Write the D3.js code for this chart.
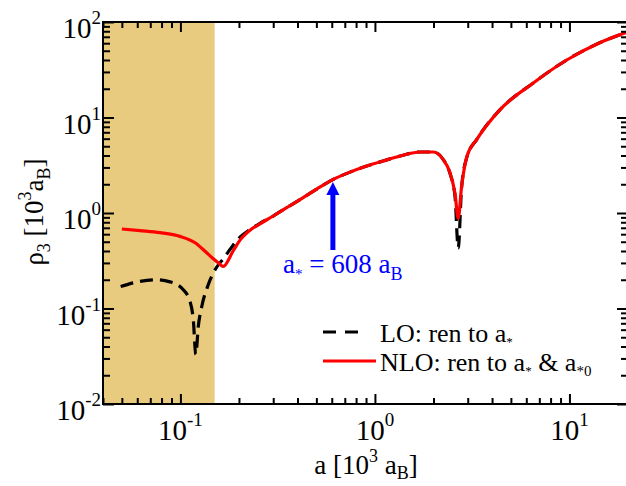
<!DOCTYPE html>
<html><head><meta charset="utf-8">
<script src="https://cdn.jsdelivr.net/npm/d3@7"></script>
<style>
body{margin:0;background:#fff}
svg{display:block}
</style>
</head><body>
<svg id="c" width="626" height="486" font-family="'Liberation Serif','Times New Roman',Times,'DejaVu Serif',serif"></svg>
<script>
// a in units of 10^3 a_B, rho3 in units of 10^3 a_B
const loX = [0.0493,0.062,0.0755,0.0885,0.1035,0.112,0.1165,0.12,0.1236,0.1288,0.139,0.1507,0.166,0.1866,0.2025,0.228,0.2565,0.3,0.337,0.412,0.502,0.611,0.745,0.908,1.10,1.35,1.71,2.0,2.25,2.43,2.58,2.68,2.79,2.97,3.34,4.40,6.52,9.68,14.4,20];
const loY = [0.17,0.192,0.20,0.19,0.157,0.119,0.076,0.033,0.065,0.105,0.177,0.255,0.33,0.46,0.56,0.67,0.78,0.93,1.08,1.38,1.78,2.25,2.68,3.1,3.5,3.95,4.35,4.35,3.6,2.6,1.5,0.43,1.85,3.85,5.9,12.1,23,40,61,79];
const nloX = [0.05,0.062,0.0785,0.0995,0.119,0.134,0.1455,0.157,0.166,0.1866,0.2025,0.228,0.2565,0.3,0.337,0.412,0.502,0.611,0.745,0.908,1.10,1.35,1.71,2.0,2.25,2.43,2.58,2.68,2.79,2.97,3.34,4.40,6.52,9.68,14.4,20];
const nloY = [0.68,0.653,0.622,0.569,0.488,0.397,0.34,0.30,0.276,0.40,0.52,0.66,0.77,0.93,1.08,1.38,1.78,2.25,2.68,3.1,3.5,3.95,4.35,4.35,3.6,2.65,1.6,0.88,1.9,3.9,5.9,12.1,23,40,61,79];
const xMajor = [0.1,1,10];
const xMajorExp = ["-1","0","1"];
const yMajor = [0.01,0.1,1,10,100];
const yMajorExp = ["-2","-1","0","1","2"];
const shade = [0.04,0.15];
const aStar = 0.608;   // a* = 608 a_B

const svg = d3.select("#c");
const L=103, R=628, T=22, B=404;
const x = d3.scaleLog().domain([0.04,20]).range([L,R]);
const y = d3.scaleLog().domain([0.01,100]).range([B,T]);

const minorX = [], minorY = [];
for (let e=-2;e<=1;e++) for (let m=2;m<=9;m++){ const v=m*Math.pow(10,e); if(v>=0.04&&v<=20) minorX.push(v);}
for (let e=-2;e<=1;e++) for (let m=2;m<=9;m++){ minorY.push(m*Math.pow(10,e)); }

// shaded region
svg.append("rect").attr("x",x(shade[0])).attr("y",T).attr("width",x(shade[1])-x(shade[0])).attr("height",B-T).attr("fill","#e9cb80");

// clip
svg.append("clipPath").attr("id","clip").append("rect").attr("x",L).attr("y",T).attr("width",R-L).attr("height",B-T);

const g = svg.append("g").attr("clip-path","url(#clip)");
const line = (xs,ys)=> d3.line().x(d=>x(xs[d])).y(d=>y(ys[d])).curve(d3.curveMonotoneX)(d3.range(xs.length));

g.append("path").attr("d",line(loX,loY)).attr("fill","none").attr("stroke","#000").attr("stroke-width",3.2).attr("stroke-dasharray","13,7");
g.append("path").attr("d",line(nloX,nloY)).attr("fill","none").attr("stroke","#ff0000").attr("stroke-width",3.2);

// axes ticks (inward)
function ticks(axisFn, scale, vals, size, transform){
  const a = axisFn(scale).tickValues(vals).tickSize(size).tickFormat("");
  const gg = svg.append("g").attr("transform",transform).call(a);
  gg.select(".domain").remove();
  gg.selectAll("line").attr("stroke","#000").attr("stroke-width",2);
}
ticks(d3.axisBottom, x, xMajor, -10, `translate(0,${B})`);
ticks(d3.axisBottom, x, minorX, -6, `translate(0,${B})`);
ticks(d3.axisTop, x, xMajor, -10, `translate(0,${T})`);
ticks(d3.axisTop, x, minorX, -6, `translate(0,${T})`);
ticks(d3.axisLeft, y, yMajor, -11, `translate(${L},0)`);
ticks(d3.axisLeft, y, minorY, -7, `translate(${L},0)`);
ticks(d3.axisRight, y, yMajor, -11, `translate(${R},0)`);
ticks(d3.axisRight, y, minorY, -7, `translate(${R},0)`);

// frame
svg.append("rect").attr("x",L).attr("y",T).attr("width",R-L).attr("height",B-T).attr("fill","none").attr("stroke","#000").attr("stroke-width",2);

// tick labels
xMajor.forEach((v,i)=>{
  const t = svg.append("text").attr("x",x(v)).attr("y",440).attr("text-anchor","middle").attr("font-size",29);
  t.append("tspan").text("10");
  t.append("tspan").attr("font-size",19).attr("dy",-14).text(xMajorExp[i]);
});
yMajor.forEach((v,i)=>{
  const t = svg.append("text").attr("x",101).attr("y",y(v)+16).attr("text-anchor","end").attr("font-size",29);
  t.append("tspan").text("10");
  t.append("tspan").attr("font-size",19).attr("dy",-14).text(yMajorExp[i]);
});

// axis titles
const xt = svg.append("text").attr("x",366).attr("y",474).attr("text-anchor","middle").attr("font-size",27);
xt.append("tspan").text("a [10");
xt.append("tspan").attr("font-size",18).attr("dy",-12).text("3");
xt.append("tspan").attr("dy",12).text(" a");
xt.append("tspan").attr("font-size",18).attr("dy",5).text("B");
xt.append("tspan").attr("dy",-5).text("]");

const yt = svg.append("text").attr("transform","translate(43,212) rotate(-90)").attr("text-anchor","middle").attr("font-size",27);
yt.append("tspan").text("ρ");
yt.append("tspan").attr("font-size",18).attr("dy",7).text("3");
yt.append("tspan").attr("dy",-7).text("  [10");
yt.append("tspan").attr("font-size",18).attr("dy",-12).text("3");
yt.append("tspan").attr("dy",12).text("a");
yt.append("tspan").attr("font-size",18).attr("dy",7).text("B");
yt.append("tspan").attr("dy",-7).text("]");

// arrow annotation
const ax = x(aStar);
svg.append("line").attr("x1",ax).attr("x2",ax).attr("y1",250).attr("y2",192).attr("stroke","#0000ff").attr("stroke-width",5);
svg.append("path").attr("d",`M${ax},182L${ax-6.5},195L${ax+6.5},195Z`).attr("fill","#0000ff");
const at = svg.append("text").attr("x",283).attr("y",273).attr("font-size",27).attr("fill","#0000ff");
at.append("tspan").text("a");
at.append("tspan").attr("font-size",15).attr("dy",6).text("*");
at.append("tspan").attr("dy",-6).text(" = 608 a");
at.append("tspan").attr("font-size",18).attr("dy",7).text("B");

// legend
svg.append("line").attr("x1",323).attr("x2",366).attr("y1",332).attr("y2",332).attr("stroke","#000").attr("stroke-width",3.2).attr("stroke-dasharray","13,9");
svg.append("line").attr("x1",323).attr("x2",376).attr("y1",361).attr("y2",361).attr("stroke","#ff0000").attr("stroke-width",3.2);
const l1 = svg.append("text").attr("x",380).attr("y",342).attr("font-size",26);
l1.append("tspan").text("LO: ren to a");
l1.append("tspan").attr("font-size",13).attr("dy",4).text("*");
const l2 = svg.append("text").attr("x",380).attr("y",371).attr("font-size",26);
l2.append("tspan").text("NLO: ren to a");
l2.append("tspan").attr("font-size",13).attr("dy",4).text("*");
l2.append("tspan").attr("dy",-4).text(" & a");
l2.append("tspan").attr("font-size",15).attr("dy",5).text("*0");
</script>
</body></html>
